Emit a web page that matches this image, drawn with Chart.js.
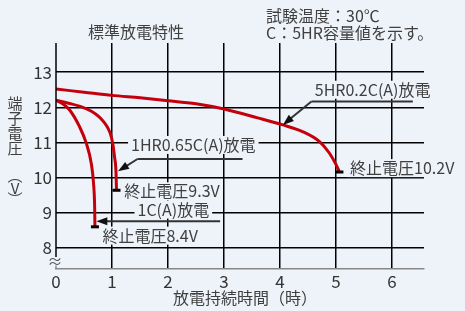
<!DOCTYPE html>
<html><head><meta charset="utf-8">
<script src="https://cdn.jsdelivr.net/npm/chart.js@4"></script>
<style>html,body{margin:0;padding:0;background:#eef2f9;}canvas{display:block}</style>
</head><body><canvas id="c" width="465" height="311"></canvas>
<script>
// ---- data ----
const xTicks = [0, 1, 2, 3, 4, 5, 6];
const yTicks = [8, 9, 10, 11, 12, 13];
// 5HR 0.2C(A) discharge
const t5hr = [0, 0.5, 1, 1.5, 2, 2.5, 3, 3.6, 4.05, 4.4, 4.7, 4.88, 5.0, 5.06];
const v5hr = [12.52, 12.43, 12.34, 12.27, 12.19, 12.1, 11.95, 11.7, 11.5, 11.31, 11.03, 10.7, 10.37, 10.16];
// 1HR 0.65C(A) discharge
const t1hr = [0, 0.24, 0.48, 0.64, 0.76, 0.86, 0.93, 0.98, 1.015, 1.045, 1.07, 1.08];
const v1hr = [12.2, 12.11, 12.0, 11.88, 11.74, 11.57, 11.4, 11.2, 10.95, 10.59, 10.2, 9.64];
// 1C(A) discharge
const t1c = [0, 0.12, 0.24, 0.42, 0.54, 0.63, 0.67, 0.69, 0.695];
const v1c = [12.2, 12.1, 11.93, 11.45, 10.98, 10.4, 9.84, 9.17, 8.6];

const FONT = '"Noto Sans CJK JP","Noto Sans",sans-serif';
const TXT = '#404040';
const BG = '#eef2f9';
const RED = '#c4000c';

function mk(t, v) { return t.map((x, i) => ({ x: x, y: v[i] })); }
function ds(label, t, v) {
  return {
    label: label, data: mk(t, v), borderColor: RED, borderWidth: 3, cubicInterpolationMode: 'monotone', fill: false,
    pointStyle: 'line', pointRadius: v.map((_, i) => i === v.length - 1 ? 4 : 0),
    pointBorderColor: '#000', pointBackgroundColor: '#000', pointBorderWidth: 3, pointHoverRadius: 0
  };
}

const deco = {
  id: 'deco',
  beforeDraw(c) { const g = c.ctx; g.save(); g.fillStyle = BG; g.fillRect(0, 0, c.width, c.height); g.restore(); },
  afterDraw(c) {
    const g = c.ctx, X = c.scales.x, Y = c.scales.y, a = c.chartArea;
    const px = v => X.getPixelForValue(v), py = v => Y.getPixelForValue(v);
    g.save();
    // left axis with break
    g.strokeStyle = '#000'; g.lineWidth = 1.5;
    g.beginPath(); g.moveTo(a.left, a.top); g.lineTo(a.left, py(7.74)); g.stroke();
    g.strokeStyle = '#888';
    g.beginPath(); g.moveTo(a.left, py(7.5)); g.lineTo(a.left, a.bottom); g.stroke();
    g.fillStyle = '#555'; g.font = '15px ' + FONT; g.textAlign = 'center'; g.textBaseline = 'middle';
    g.fillText('≈', a.left - 1, py(7.63));

    function label(txt, x, y) {
      g.font = '16px ' + FONT;
      const w = g.measureText(txt).width;
      g.fillStyle = BG; g.fillRect(x - 3, y - 9, w + 6, 18);
      g.fillStyle = TXT; g.textBaseline = 'middle'; g.textAlign = 'left';
      g.fillText(txt, x, y);
    }
    function line(x1, y1, x2, y2) {
      g.strokeStyle = '#333'; g.lineWidth = 2;
      g.beginPath(); g.moveTo(x1, y1); g.lineTo(x2, y2); g.stroke();
    }
    function arrow(x1, y1, x2, y2) {
      const ang = Math.atan2(y2 - y1, x2 - x1), L = 11, W = 4;
      line(x1, y1, x2 - 6 * Math.cos(ang), y2 - 6 * Math.sin(ang));
      g.fillStyle = '#111'; g.beginPath(); g.moveTo(x2, y2);
      g.lineTo(x2 - L * Math.cos(ang) + W * Math.sin(ang), y2 - L * Math.sin(ang) - W * Math.cos(ang));
      g.lineTo(x2 - L * Math.cos(ang) - W * Math.sin(ang), y2 - L * Math.sin(ang) + W * Math.cos(ang));
      g.closePath(); g.fill();
    }
    // 5HR
    label('5HR0.2C(A)放電', px(4.62), py(12.50));
    line(px(6.37), py(12.165), px(4.56), py(12.165));
    arrow(px(4.56), py(12.165), px(4.05), py(11.50));
    // 1HR
    label('1HR0.65C(A)放電', px(1.34), py(10.93));
    line(px(3.33), py(10.53), px(1.455), py(10.53));
    arrow(px(1.455), py(10.53), px(1.107), py(10.18));
    // 1C
    label('1C(A)放電', px(1.455), py(9.09));
    arrow(px(2.93), py(8.76), px(0.72), py(8.76));
    // end labels
    label('終止電圧9.3V', px(1.22), py(9.61));
    label('終止電圧8.4V', px(0.83), py(8.35));
    label('終止電圧10.2V', px(5.25), py(10.27));

    // titles
    g.fillStyle = TXT; g.textBaseline = 'middle';
    g.font = '16px ' + FONT; g.textAlign = 'center';
    g.fillText('標準放電特性', 136, 32);
    g.textAlign = 'left';
    g.fillText('試験温度：30℃', 266, 15.5);
    g.fillText('C：5HR容量値を示す。', 266, 33);
    g.textAlign = 'center';
    g.fillText('放電持続時間（時）', 245, 298);
    g.font = '15px ' + FONT;
    const yt = ['端', '子', '電', '圧', '︵', 'V', '︶'];
    const yc = [103, 118, 133, 148, 175, 188, 199];
    yt.forEach((ch, i) => g.fillText(ch, 15, yc[i]));
    g.restore();
  }
};

new Chart(document.getElementById('c'), {
  type: 'line',
  data: { datasets: [ds('5HR0.2C(A)放電', t5hr, v5hr), ds('1HR0.65C(A)放電', t1hr, v1hr), ds('1C(A)放電', t1c, v1c)] },
  options: {
    responsive: false, devicePixelRatio: 1, animation: false,
    layout: { padding: { top: 43, right: 41, left: 0, bottom: 0 } },
    plugins: { legend: { display: false }, tooltip: { enabled: false } },
    scales: {
      x: {
        type: 'linear', min: 0, max: 6.57,
        afterBuildTicks: s => { s.ticks = xTicks.map(v => ({ value: v })); },
        afterFit: s => { s.height = 42; },
        grid: { color: ctx => ctx.tick && ctx.tick.value === 0 ? 'rgba(0,0,0,0)' : '#000', lineWidth: 1.5, drawTicks: false },
        border: { display: true, color: '#888', width: 1.5 },
        ticks: { color: '#333', font: { family: FONT, size: 17 }, padding: 2, maxRotation: 0 }
      },
      y: {
        type: 'linear', min: 7.4, max: 13.83,
        afterBuildTicks: s => { s.ticks = yTicks.map(v => ({ value: v })); },
        afterFit: s => { s.width = 56; },
        grid: { color: '#000', lineWidth: 1.5, drawTicks: false },
        border: { display: false },
        ticks: { color: '#333', font: { family: FONT, size: 17 }, padding: 4 }
      }
    }
  },
  plugins: [deco]
});
</script></body></html>
